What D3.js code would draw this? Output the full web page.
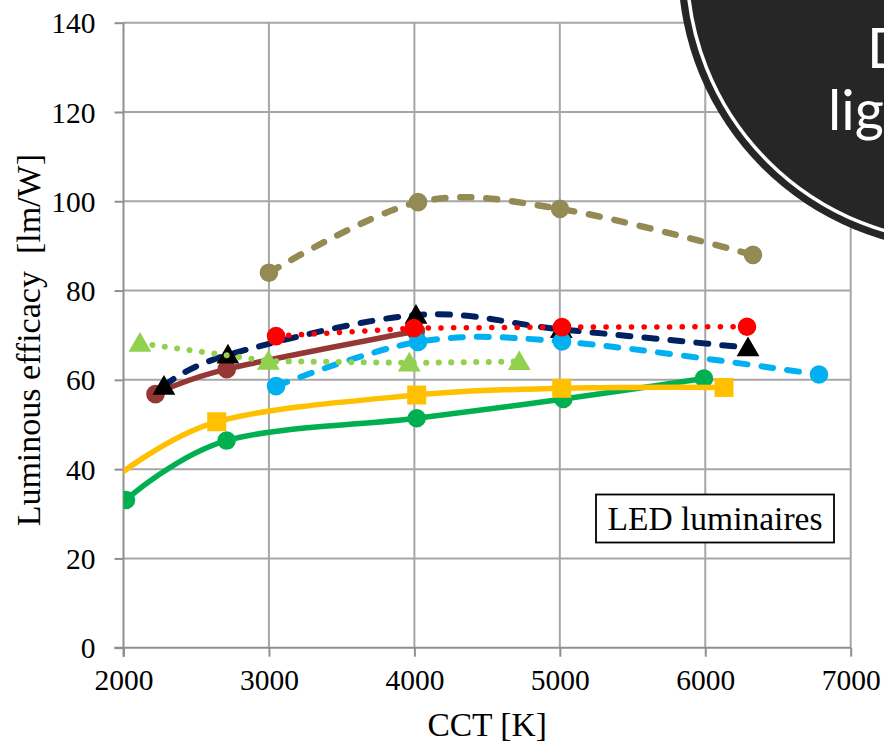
<!DOCTYPE html>
<html><head><meta charset="utf-8">
<script src="https://cdn.jsdelivr.net/npm/d3@7"></script>
<style>
html,body{margin:0;padding:0;background:#fff;overflow:hidden;}
svg{display:block;}
</style></head>
<body>
<svg id="chart" width="884" height="744"></svg>
<script>
// ---- data ----
const xTicks = [2000, 3000, 4000, 5000, 6000, 7000];
const yTicks = [0, 20, 40, 60, 80, 100, 120, 140];

const oliveCCT = [3000, 4025, 5001, 6328];
const oliveEff = [84, 99.8, 98.3, 88];

const brownCCT = [2220, 2710, 4010];
const brownEff = [56.8, 62.4, 70.9];

const navyCCT = [2278, 2718, 4011, 5010, 6294];
const navyEff = [58.6, 65.6, 74.5, 71.3, 67.2];

const blueCCT = [3049, 4025, 5015, 6782];
const blueEff = [58.6, 68.5, 68.6, 61.2];

const redCCT = [3049, 3997, 5015, 6287];
const redEff = [69.8, 71.6, 71.8, 71.9];

const lgreenCCT = [2113, 2996, 3965, 4721];
const lgreenEff = [68.2, 64.2, 63.8, 64.1];

const greenCCT = [2017, 2709, 4016, 5024, 5991];
const greenEff = [33.1, 46.4, 51.4, 55.7, 60.3];

const yellowCCT = [1900, 2641, 4016, 5013, 6129];
const yellowEff = [37, 50.6, 56.6, 58.1, 58.3];

const labels = {x: "CCT [K]", y: "Luminous efficacy  [lm/W]", box: "LED luminaires"};

// ---- layout ----
const svg = d3.select("#chart");
const x = d3.scaleLinear().domain([2000, 7000]).range([123.5, 850.7]);
const y = d3.scaleLinear().domain([0, 140]).range([647.7, 22.7]);
const serif = "'Liberation Serif','Times New Roman',serif";

svg.append("defs").append("clipPath").attr("id", "plotclip")
  .append("rect").attr("x", x(2000)).attr("y", y(140) - 15)
  .attr("width", x(7000) - x(2000)).attr("height", y(0) - y(140) + 30);

// gridlines
const grid = svg.append("g");
grid.selectAll("line.h").data(yTicks.filter(d => d > 0)).join("line")
  .attr("x1", x(2000)).attr("x2", x(7000))
  .attr("y1", d => y(d)).attr("y2", d => y(d))
  .attr("stroke", "#a6a6a6").attr("stroke-width", 2);
grid.selectAll("line.v").data(xTicks.filter(d => d > 2000)).join("line")
  .attr("y1", y(0)).attr("y2", y(140))
  .attr("x1", d => x(d)).attr("x2", d => x(d))
  .attr("stroke", "#a6a6a6").attr("stroke-width", 2);

// axes
const xAxis = d3.axisBottom(x).tickValues(xTicks).tickSize(9).tickPadding(12).tickFormat(d3.format("d"));
const yAxis = d3.axisLeft(y).tickValues(yTicks).tickSize(9).tickPadding(19).tickFormat(d3.format("d"));
const gx = svg.append("g").attr("transform", `translate(0,${y(0)})`).call(xAxis);
const gy = svg.append("g").attr("transform", `translate(${x(2000)},0)`).call(yAxis);
[gx, gy].forEach(g => {
  g.select(".domain").attr("stroke", "#8f8f8f").attr("stroke-width", 2);
  g.selectAll(".tick line").attr("stroke", "#8f8f8f").attr("stroke-width", 2);
  g.selectAll("text").attr("font-family", serif).attr("font-size", 29.5).attr("fill", "#000");
});
gx.select(".domain").attr("d", `M${x(2000) - 9},0H${x(7000)}`);
gy.select(".domain").attr("d", `M0,${y(0) + 9}V${y(140)}`);
gx.selectAll(".tick text").attr("dy", "0.71em");
gy.selectAll(".tick text").attr("dy", "0.34em");

// axis titles
svg.append("text").attr("x", (x(2000) + x(7000)) / 2).attr("y", 736)
  .attr("text-anchor", "middle").attr("font-family", serif).attr("font-size", 33.5)
  .text(labels.x);
svg.append("text").attr("transform", `translate(40,${(y(0) + y(140)) / 2 + 5}) rotate(-90)`)
  .attr("text-anchor", "middle").attr("font-family", serif).attr("font-size", 34)
  .style("white-space", "pre").text(labels.y);

// series
const plot = svg.append("g").attr("clip-path", "url(#plotclip)");
const smooth = d3.line().x(d => x(d[0])).y(d => y(d[1])).curve(d3.curveCardinal.tension(0));
const straight = d3.line().x(d => x(d[0])).y(d => y(d[1]));

const series = [
  {cx: oliveCCT, cy: oliveEff, color: "#948a54", gen: smooth, dash: "11,15", w: 6.5, marker: "circle", mcolor: "#948a54"},
  {cx: brownCCT, cy: brownEff, color: "#953735", gen: smooth, dash: null, w: 5.5, marker: "circle", mcolor: "#953735"},
  {cx: navyCCT, cy: navyEff, color: "#002060", gen: smooth, dash: "12,14", w: 6, marker: "triangle", mcolor: "#000000"},
  {cx: blueCCT, cy: blueEff, color: "#00b0f0", gen: smooth, dash: "12,14", w: 6, marker: "circle", mcolor: "#00b0f0"},
  {cx: redCCT, cy: redEff, color: "#ff0000", gen: straight, dash: "0.1,12.6", w: 5.5, marker: "circle", mcolor: "#ff0000"},
  {cx: lgreenCCT, cy: lgreenEff, color: "#92d050", gen: straight, dash: "0.1,12.4", w: 6, marker: "triangle", mcolor: "#92d050"},
  {cx: greenCCT, cy: greenEff, color: "#00b050", gen: smooth, dash: null, w: 5.5, marker: "circle", mcolor: "#00b050"},
  {cx: yellowCCT, cy: yellowEff, color: "#ffc000", gen: smooth, dash: null, w: 5.5, marker: "square", mcolor: "#ffc000"}
];

const symbols = {
  circle: d3.symbol().type(d3.symbolCircle).size(Math.PI * 9.3 * 9.3),
  square: d3.symbol().type(d3.symbolSquare).size(19 * 19),
  triangle: d3.symbol().type(d3.symbolTriangle).size(225)
};

series.forEach(s => {
  const pts = s.cx.map((c, i) => [c, s.cy[i]]);
  const g = plot.append("g");
  g.append("path").attr("d", s.gen(pts)).attr("fill", "none")
    .attr("stroke", s.color).attr("stroke-width", s.w)
    .attr("stroke-linecap", "round").attr("stroke-linejoin", "round")
    .attr("stroke-dasharray", s.dash);
  g.selectAll("path.m").data(pts.filter(p => p[0] >= 2000 && p[0] <= 7000)).join("path")
    .attr("class", "m")
    .attr("transform", p => `translate(${x(p[0])},${y(p[1]) + (s.marker === "triangle" ? 2 : 0)})`)
    .attr("d", symbols[s.marker]()).attr("fill", s.mcolor);
});

// annotation box
const bx = svg.append("g");
bx.append("rect").attr("x", 596).attr("y", 494.5).attr("width", 238).attr("height", 48)
  .attr("fill", "#fff").attr("stroke", "#000").attr("stroke-width", 1.8);
bx.append("text").attr("x", 715).attr("y", 530).attr("text-anchor", "middle")
  .attr("font-family", serif).attr("font-size", 33.5).text(labels.box);

// dark corner badge
const badge = svg.append("g");
badge.append("circle").attr("cx", 963).attr("cy", -34).attr("r", 285).attr("fill", "#262626");
badge.append("circle").attr("cx", 963).attr("cy", -34).attr("r", 276).attr("fill", "none")
  .attr("stroke", "#fff").attr("stroke-width", 3.5);
badge.append("text").attr("x", 867).attr("y", 68).attr("font-family", "Lato, sans-serif")
  .attr("font-size", 56).attr("fill", "#fff").text("D");
badge.append("text").attr("x", 828).attr("y", 130).attr("font-family", "Lato, sans-serif")
  .attr("font-size", 56).attr("fill", "#fff").text("lig");
</script>
</body></html>
